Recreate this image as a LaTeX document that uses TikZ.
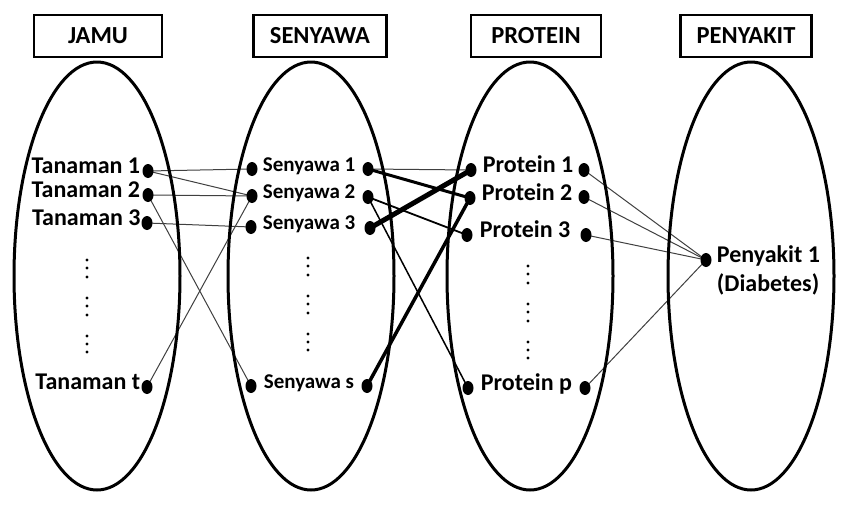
\documentclass[tikz,border=0pt]{standalone}
\usepackage{fontspec}
\setmainfont{Carlito}
\usetikzlibrary{shapes.geometric,positioning,backgrounds}

\begin{document}
\begin{tikzpicture}
	[x=1pt, y=-1pt,
	head/.style = {draw, line width=2.5pt, minimum width=128pt,
	minimum height=42pt, font=\fontsize{24.5}{28}\selectfont\bfseries},
	setoval/.style = {draw, ellipse, line width=3pt,
	minimum width=166pt, minimum height=428pt},
	dot/.style = {fill, ellipse, inner sep=0pt,
	minimum width=11pt, minimum height=14pt},
	lbl/.style = {inner sep=0pt, font=\fontsize{24}{28}\selectfont\bfseries},
	slbl/.style = {inner sep=0pt, font=\fontsize{21}{24}\selectfont\bfseries},
	link/.style = {line width=1pt, black!75}]
	\useasboundingbox (0,0) rectangle (844,504);
	% headers
	\node[head] (jamu) at (98,36) {JAMU};
	\node[head, minimum width=133pt] (senyawa) at (320,36) {SENYAWA};
	\node[head, minimum width=130pt] (protein) at (536,36) {PROTEIN};
	\node[head, minimum width=131pt] (penyakit) at (746,36) {PENYAKIT};
	% sets
	\node[setoval] (jamuset) at (97,276) {};
	\node[setoval] (senyawaset) at (311,276) {};
	\node[setoval] (proteinset) at (530,276) {};
	\node[setoval] (penyakitset) at (751,276) {};
	% jamu
	\node[dot] (t1) at (148,171) {};
	\node[dot] (t2) at (148,195) {};
	\node[dot] (t3) at (147,223) {};
	\node[dot] (tt) at (147,387) {};
	\node[lbl, anchor=mid east] at ([xshift=-2pt]t1.west) {Tanaman 1};
	\node[lbl, anchor=mid east] at ([xshift=-2pt]t2.west) {Tanaman 2};
	\node[lbl, anchor=mid east] at ([xshift=-0.5pt]t3.west) {Tanaman 3};
	\node[lbl, anchor=mid east] at ([xshift=-1pt]tt.west) {Tanaman t};
	% senyawa
	\node[dot] (s1a) at (252,169) {};
	\node[dot] (s1b) at (368,169) {};
	\node[dot] (s2a) at (252,196) {};
	\node[dot] (s2b) at (368,197) {};
	\node[dot] (s3a) at (251,227) {};
	\node[dot] (s3b) at (370,228) {};
	\node[dot] (ssa) at (251,386) {};
	\node[dot] (ssb) at (367,386) {};
	\node[slbl, anchor=mid west] at ([xshift=5pt]s1a.east) {Senyawa 1};
	\node[slbl, anchor=mid west] at ([xshift=5pt]s2a.east) {Senyawa 2};
	\node[slbl, anchor=mid west] at ([xshift=6pt]s3a.east) {Senyawa 3};
	\node[slbl, anchor=mid west] at ([xshift=7pt]ssa.east) {Senyawa s};
	% protein
	\node[dot] (p1a) at (471,170) {};
	\node[dot] (p1b) at (584,170) {};
	\node[dot] (p2a) at (470,198) {};
	\node[dot] (p2b) at (584,197) {};
	\node[dot] (p3a) at (467,235) {};
	\node[dot] (p3b) at (586,235) {};
	\node[dot] (ppa) at (468,388) {};
	\node[dot] (ppb) at (585,388) {};
	\node[lbl, anchor=mid west] at ([xshift=6pt]p1a.east) {Protein 1};
	\node[lbl, anchor=mid west] at ([xshift=6pt]p2a.east) {Protein 2};
	\node[lbl, anchor=mid west] at ([xshift=7pt]p3a.east) {Protein 3};
	\node[lbl, anchor=mid west] at ([xshift=7pt]ppa.east) {Protein p};
	% penyakit
	\node[dot] (d1) at (706,260) {};
	\node[lbl, anchor=mid west] (d1txt) at ([xshift=5pt]d1.east) {Penyakit 1};
	\node[lbl, anchor=base west] at ([yshift=-29pt]d1txt.base west) {(Diabetes)};
	% vertical dots
	\foreach \x/\dy in {87/0, 308/-2, 528/6}
		\foreach \y in {260,268,277,298,306,315,336,344,352}
			\fill (\x,\y+\dy) circle (1.7pt);
	\begin{scope}[on background layer]
		\fill[white] (0,0) rectangle (844,504);
		\draw[link] (t1.center) -- (s1a.center);
		\draw[link] (t1.center) -- (s2a.center);
		\draw[link] (t2.center) -- (s2a.center);
		\draw[link] (t2.center) -- (ssa.center);
		\draw[link] (t3.center) -- (s3a.center);
		\draw[link] (tt.center) -- (s2a.center);
		\draw[link] (s1b.center) -- (p1a.center);
		\draw[line width=3pt] (s1b.center) -- (p2a.center);
		\draw[line width=1.8pt] (s2b.center) -- (p3a.center);
		\draw[line width=1.5pt] (s2b.center) -- (ppa.center);
		\draw[line width=5pt] (s3b.center) -- (p1a.center);
		\draw[line width=3.5pt] (ssb.center) -- (p2a.center);
		\draw[link] (p1b.center) -- (d1.center);
		\draw[link] (p2b.center) -- (d1.center);
		\draw[link] (p3b.center) -- (d1.center);
		\draw[link] (ppb.center) -- (d1.center);
	\end{scope}
\end{tikzpicture}
\end{document}
